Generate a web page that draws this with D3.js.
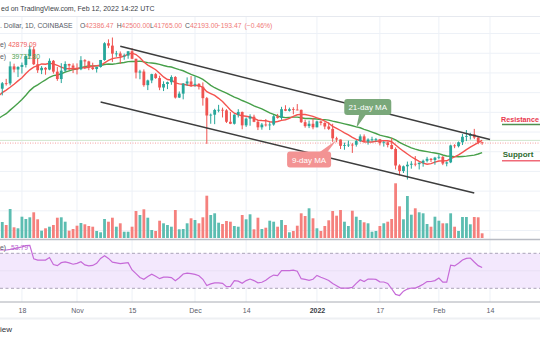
<!DOCTYPE html>
<html><head><meta charset="utf-8">
<script src="https://cdn.jsdelivr.net/npm/d3@7"></script>
<style>
html,body{margin:0;padding:0;background:#fff;overflow:hidden}
svg{display:block;font-family:"Liberation Sans",Arial,sans-serif}
</style></head><body>
<svg id="c" width="540" height="340"></svg>
<script>
// ---------- DATA ----------
const startDate = "2021-10-12";
// closes before the first visible day (Sep 22 - Oct 11), used only for the moving averages
const warmupCloses = [43570,44900,42840,42720,43210,42200,41030,41520,43820,48140,47660,48210,49240,51490,55340,53800,53930,54960,54700,57480];
const opens = [
57480,56000,57380,57350,61670,60880,61530,62030,64300,66000,62210,60690,61300,60860,63080,60330,58450,60590,62270,61880,
61320,60930,63230,62930,61430,60990,61520,63290,67540,66940,64900,64950,64150,64400,65500,63600,60100,60360,56900,58100,59700,58700,56300,57200,57650,58960,53750,54750,57300,57840,
57000,57230,56500,53600,49200,49400,50600,50650,50500,47600,47100,49400,50100,46700,48400,48900,47600,46200,46900,46700,46900,49000,48600,50800,50400,50800,50700,50640,47500,46500,47100,
46200,47700,47300,46400,45800,43400,43100,41500,41700,41800,41780,42700,43900,42600,43100,43150,43180,42200,42400,41700,40700,36500,35100,36300,36700,36950,36850,37200,37700,38200,37900,
38500,38700,37000,37300,41600,41400,42400,43800,44000,44400,43600,42386.47];
const highs = [
57680,57700,58500,62900,62350,61700,62650,64480,67000,66650,63700,61740,61490,63700,63290,61500,62480,62950,62360,62430,
62430,64260,63500,63100,62600,61550,63300,67800,68530,69000,65600,65450,64900,65500,66300,63600,60800,60900,58300,59800,60000,59300,57870,57800,59400,59200,55300,57400,58870,59200,
59100,57400,57600,53900,49700,50900,51900,51200,50800,50100,49500,50800,50200,48700,49500,49400,47900,47300,48300,47500,49300,49600,51400,51800,51200,51300,52100,50700,48100,47900,48600,
47900,47900,47500,47500,47100,43800,43100,42300,42800,42200,43000,44400,44400,43400,43800,43500,43200,42700,42600,43500,41100,36800,36500,37500,37600,38900,37300,38000,38700,38400,38700,
39300,38900,37500,41800,41900,42600,44500,45500,44800,45800,43900,42500];
const lows = [
53880,54300,56800,56850,60150,58950,59850,61380,63500,62000,60000,59700,59550,60680,59840,58000,57430,60200,60730,59970,
59640,60700,60980,60700,60730,60100,61350,63100,66300,62800,64100,62330,63350,63600,63500,58600,58400,56500,55650,57400,58500,55630,55400,55900,57000,53500,53630,53300,56700,56450,
56500,55800,51700,42000,47100,47000,50000,48700,47300,47000,46900,48700,45700,46300,46600,47500,45500,45600,46400,45500,46600,48400,48100,50300,50200,49500,50500,47300,46100,46000,45700,
46200,46700,45700,45500,42500,42400,40700,40500,41200,39700,41300,42500,42300,41800,42600,42600,41600,41300,41100,40600,35500,34000,34600,32950,35700,36300,35500,36200,37300,37400,36700,
38100,36600,36300,37100,40900,41100,41700,42700,43100,43200,41900,41765];
const closes = [
56000,57380,57350,61670,60880,61530,62030,64300,66000,62210,60690,61300,60860,63080,60330,58450,60590,62270,61880,61320,
60930,63230,62930,61430,60990,61520,63290,67540,66940,64900,64950,64150,64400,65500,63600,60100,60360,56900,58100,59700,58700,56300,57200,57650,58960,53750,54750,57300,57840,57000,
57230,56500,53600,49200,49400,50600,50650,50500,47600,47100,49400,50100,46700,48400,48900,47600,46200,46900,46700,46900,49000,48600,50800,50400,50800,50700,50640,47500,46500,47100,46200,
47700,47300,46400,45800,43400,43100,41500,41700,41800,41780,42700,43900,42600,43100,43150,43180,42200,42400,41700,40700,36500,35100,36300,36700,36950,36850,37200,37700,38200,37900,38500,
38700,37000,37300,41600,41400,42400,43800,44000,44400,43600,42386.47,42193];
// volume, thousand BTC
const volumes = [
15,17,14,30,11.7,10.7,22.3,20,21.7,26.7,19.7,8.3,10.7,12.3,14,21.3,21.7,17.3,8.3,10,
13.3,16,14.7,13,12.3,8,6.7,20,17.3,21.3,12.3,15.7,7.3,7.3,12.3,28,24,29.7,21.3,9,8,18.3,15.7,14,12.3,29,9.7,10,15.7,20.7,
19,15.7,21.7,43.3,24,25.7,16.3,15,18,17.3,13,12.3,24,19.7,24.7,9.7,21.3,10,11.3,18.3,17.3,12.3,19,14,6.7,8,13.3,25.7,23,30.7,20.7,
10.7,8,13,18.7,28,23.3,29,17.3,13,28.3,22.3,19,16.7,15.7,7.3,8,13,15.7,17.3,20,55.7,32.7,19.7,43,24.3,30.7,26.7,25.7,15,12.3,22.3,
18.3,15.7,15.7,25.7,12.3,8,22,22,14.7,22,21.7,5.7];
// RSI (14)
const rsiValues = [
73.8,73.8,73.8,74.5,75.4,76.3,77.3,78.8,79.0,63.7,62.3,62.3,62.3,65.2,57.2,55.9,59.3,60.1,59.1,57.5,
58.5,60.4,56.7,55.7,56.1,58.6,64.2,67.1,64.2,59.9,59.0,58.2,58.8,59.3,51.0,46.7,42.3,40.3,43.4,46.1,43.8,41.0,42.8,42.8,42.3,38.6,42.0,46.3,47.3,46.8,
45.9,44.4,40.3,33.2,35.1,36.1,36.1,35.7,31.8,32.2,38.7,38.2,35.8,38.8,40.6,38.8,36.2,36.9,39.1,42.6,45.1,44.6,50.1,50.1,50.3,50.7,49.5,41.0,40.1,39.1,40.3,
44.7,42.6,40.9,39.0,35.5,33.0,30.3,30.3,30.3,31.1,35.7,39.8,37.7,40.5,40.6,40.2,37.4,37.2,35.5,29.5,23.0,21.8,26.7,29.1,30.3,30.3,32.2,34.6,37.7,37.8,38.8,
41.8,37.0,37.1,56.5,55.6,58.7,62.3,64.2,64.6,60.1,55.9,53.79];
const tickDates = ["2021-10-18","2021-11-01","2021-11-15","2021-12-01","2021-12-14","2022-01-01","2022-01-17","2022-02-01","2022-02-14"];
const tickLabels = ["18","Nov","15","Dec","14","2022","17","Feb","14"];
const priceGrid = [20000,25000,30000,35000,40000,45000,50000,55000,60000,65000,70000];
const upperTrend = [{date:"2021-11-12", price:66800},{date:"2022-02-14", price:43100}];
const lowerTrend = [{date:"2021-11-07", price:52600},{date:"2022-02-10", price:29500}];
const levelPrice = 42879.09;
const lastPrice = 42193;
const ma21Note = {text:"21-day MA", date:"2022-01-11", price:46000};
const ma9Note  = {text:"9-day MA",  date:"2022-01-06", price:42950};
const headerLine = "ed on TradingView.com, Feb 12, 2022 14:22 UTC";
const symbolText = ". Dollar, 1D, COINBASE";
const ohlcLabels = ["O","H","L","C"];
const ohlcValues = ["42386.47","42500.00","41765.00","42193.00"];
const changeText = ["\u2212193.47","(\u22120.46%)"];
const ma9Legend = "42879.09", ma21Legend = "39771.80", rsiLegend = "53.79";

// ---------- SCALES ----------
const svg = d3.select("#c");
const W = 540;
const parse = s => new Date(s + "T00:00:00Z");
const t0 = parse(startDate);
const dates = closes.map((c,i) => d3.utcDay.offset(t0, i));
const bars = dates.map((d,i) => ({date:d, o:opens[i], h:highs[i], l:lows[i], c:closes[i], v:volumes[i], rsi:rsiValues[i]}));

const x = d3.scaleUtc().domain([parse("2021-11-01"), parse("2022-02-14")]).range([77, 490]);
const y = d3.scaleLinear().domain([32950, 69000]).range([179.5, 37.5]);
const vy = d3.scaleLinear().domain([0, 55.7]).range([239, 183.3]);
const ry = d3.scaleLinear().domain([30, 70]).range([288.3, 253.3]);

const allCloses = warmupCloses.concat(closes);
const off = warmupCloses.length;
const sma = n => closes.map((c,i) => d3.mean(allCloses.slice(i+off-n+1, i+off+1)));
const ma9 = sma(9), ma21 = sma(21);

const UP = "#26a69a", DN = "#ef5350";

// clips
const defs = svg.append("defs");
defs.append("clipPath").attr("id","mainClip").append("rect").attr("x",0).attr("y",17).attr("width",W).attr("height",221);
defs.append("clipPath").attr("id","rsiClip").append("rect").attr("x",0).attr("y",240).attr("width",W).attr("height",61);

// ---------- GRID ----------
const grid = svg.append("g");
grid.selectAll(".vg").data(tickDates).join("line")
  .attr("x1", d => x(parse(d))).attr("x2", d => x(parse(d)))
  .attr("y1", 17).attr("y2", 302).attr("stroke", "#edf1f7").attr("stroke-width", 1);
const main = svg.append("g").attr("clip-path","url(#mainClip)");
main.selectAll(".hg").data(priceGrid).join("line")
  .attr("x1", 0).attr("x2", W).attr("y1", d => y(d)).attr("y2", d => y(d))
  .attr("stroke", "#edf1f7").attr("stroke-width", 1);
svg.append("line").attr("x1",0).attr("x2",W).attr("y1",16.5).attr("y2",16.5).attr("stroke","#e6e9ef");

// level & price lines
main.append("line").attr("x1",0).attr("x2",W).attr("y1",y(levelPrice)).attr("y2",y(levelPrice))
  .attr("stroke","#cfe6cf").attr("stroke-width",1);
main.append("line").attr("x1",0).attr("x2",W).attr("y1",y(lastPrice)).attr("y2",y(lastPrice))
  .attr("stroke","#f4a0a0").attr("stroke-width",1).attr("stroke-dasharray","1,1.5");

// ---------- VOLUME ----------
main.append("g").selectAll("rect").data(bars).join("rect")
  .attr("x", d => x(d.date) - 1.4).attr("width", 2.8)
  .attr("y", d => vy(d.v)).attr("height", d => 239 - vy(d.v))
  .attr("fill", d => d.c >= d.o ? "#5cbdb1" : "#f5807d");

// pane separator
svg.append("line").attr("x1",0).attr("x2",W).attr("y1",239.5).attr("y2",239.5).attr("stroke","#b9bcc4").attr("stroke-width",1.5);

// ---------- MOVING AVERAGES ----------
const lineGen = vals => d3.line().x((d,i) => x(dates[i])).y(d => y(d))(vals);
main.append("path").attr("d", lineGen(ma21)).attr("fill","none").attr("stroke","#47a04a").attr("stroke-width",1.4);
main.append("path").attr("d", lineGen(ma9)).attr("fill","none").attr("stroke","#f4534f").attr("stroke-width",1.4);

// ---------- CANDLES ----------
const cg = main.append("g").selectAll("g").data(bars).join("g");
cg.append("line").attr("x1", d => x(d.date)).attr("x2", d => x(d.date))
  .attr("y1", d => y(d.h)).attr("y2", d => y(d.l))
  .attr("stroke", d => d.c >= d.o ? UP : DN).attr("stroke-width", 1);
cg.append("rect").attr("x", d => x(d.date) - 1.4).attr("width", 2.8)
  .attr("y", d => y(Math.max(d.o, d.c)))
  .attr("height", d => Math.max(0.8, Math.abs(y(d.o) - y(d.c))))
  .attr("fill", d => d.c >= d.o ? UP : DN);

// ---------- TRENDLINES ----------
[upperTrend, lowerTrend].forEach(t => {
  main.append("line")
    .attr("x1", x(parse(t[0].date))).attr("y1", y(t[0].price))
    .attr("x2", x(parse(t[1].date))).attr("y2", y(t[1].price))
    .attr("stroke", "#3d3d3d").attr("stroke-width", 1.5);
});

// ---------- CALLOUTS ----------
(function(){
  const tx = x(parse(ma21Note.date)), ty = y(ma21Note.price);
  const bx = tx - 12, by = ty - 29, bw = 47, bh = 16;
  svg.append("path").attr("d", `M${tx},${ty}L${tx+3},${by+bh-1}L${tx+10},${by+bh-1}Z`).attr("fill","#7aa87a");
  svg.append("rect").attr("x",bx).attr("y",by).attr("width",bw).attr("height",bh).attr("rx",3).attr("fill","#7aa87a");
  svg.append("text").attr("x",bx+bw/2).attr("y",by+bh/2+3).attr("text-anchor","middle")
    .attr("font-size",8).attr("fill","#fff").text(ma21Note.text);
})();
(function(){
  const tx = x(parse(ma9Note.date)), ty = y(ma9Note.price);
  const bw = 44, bh = 16, bx = tx - 49.5, by = ty + 11.5;
  svg.append("path").attr("d", `M${tx},${ty}L${bx+bw-12},${by+1}L${bx+bw-4},${by+1}Z`).attr("fill","#f39393");
  svg.append("rect").attr("x",bx).attr("y",by).attr("width",bw).attr("height",bh).attr("rx",3).attr("fill","#f39393");
  svg.append("text").attr("x",bx+bw/2).attr("y",by+bh/2+3).attr("text-anchor","middle")
    .attr("font-size",8).attr("fill","#fff").text(ma9Note.text);
})();

// ---------- RESISTANCE / SUPPORT ----------
svg.append("text").attr("x",501).attr("y",121.5).attr("font-size",7.6).attr("font-weight","bold").attr("fill","#e9384d")
  .attr("textLength",38).attr("lengthAdjust","spacingAndGlyphs").text("Resistance");
svg.append("line").attr("x1",502).attr("x2",W).attr("y1",124.5).attr("y2",124.5).attr("stroke","#4f8f4f").attr("stroke-width",1.5);
svg.append("text").attr("x",502.7).attr("y",157).attr("font-size",8).attr("font-weight","bold").attr("fill","#2f6b2f").text("Support");
svg.append("line").attr("x1",502).attr("x2",W).attr("y1",160.8).attr("y2",160.8).attr("stroke","#f06a78").attr("stroke-width",1.5);

// ---------- HEADER / LEGENDS ----------
svg.append("text").attr("x",1).attr("y",10.5).attr("font-size",7).attr("fill","#3c3f48").text(headerLine);
svg.append("text").attr("x",0).attr("y",27.5).attr("font-size",6.8).attr("fill","#555a66").text(symbolText);
const ohlcX = [80,116.7,150,185];
ohlcLabels.forEach((l,i) => {
  const t = svg.append("text").attr("x",ohlcX[i]).attr("y",27.5).attr("font-size",6.8);
  t.append("tspan").attr("fill","#555a66").text(l);
  t.append("tspan").attr("fill","#f07a78").text(ohlcValues[i]);
});
svg.append("text").attr("x",216.7).attr("y",27.5).attr("font-size",6.8).attr("fill","#f07a78").text(changeText[0]);
svg.append("text").attr("x",244.5).attr("y",27.5).attr("font-size",6.8).attr("fill","#f07a78").text(changeText[1]);

svg.append("text").attr("x",0).attr("y",46.5).attr("font-size",6.8).attr("fill","#555a66").text("e)");
svg.append("text").attr("x",8.3).attr("y",46.5).attr("font-size",6.8).attr("fill","#f0605c").text(ma9Legend);
svg.append("text").attr("x",0).attr("y",58.5).attr("font-size",6.8).attr("fill","#555a66").text("e)");
svg.append("text").attr("x",11.7).attr("y",58.5).attr("font-size",6.8).attr("fill","#4f9f4f").text(ma21Legend);

// ---------- RSI PANE ----------
const rsiG = svg.append("g").attr("clip-path","url(#rsiClip)");
rsiG.append("rect").attr("x",0).attr("width",W).attr("y",ry(70)).attr("height",ry(30)-ry(70)).attr("fill","#f3e8fd");
rsiG.append("line").attr("x1",0).attr("x2",W).attr("y1",ry(50)).attr("y2",ry(50)).attr("stroke","#e9e0f4");
[70,30].forEach(v => rsiG.append("line").attr("x1",0).attr("x2",W).attr("y1",ry(v)).attr("y2",ry(v))
  .attr("stroke","#aaa3b8").attr("stroke-width",1).attr("stroke-dasharray","3,2.5"));
rsiG.append("path").attr("d", d3.line().x(d => x(d.date)).y(d => ry(d.rsi))(bars))
  .attr("fill","none").attr("stroke","#c66ad8").attr("stroke-width",1.2);
svg.append("text").attr("x",0).attr("y",249.5).attr("font-size",6.8).attr("fill","#555a66").text("e)");
svg.append("text").attr("x",11).attr("y",249.5).attr("font-size",6.8).attr("fill","#b968d0").text(rsiLegend);

// ---------- TIME AXIS ----------
svg.append("line").attr("x1",0).attr("x2",W).attr("y1",302).attr("y2",302).attr("stroke","#a9acb4").attr("stroke-width",1);
const axis = d3.axisBottom(x).tickValues(tickDates.map(parse)).tickFormat((d,i) => tickLabels[i]).tickSize(0).tickPadding(3);
const ag = svg.append("g").attr("transform","translate(0,305)").call(axis);
ag.select(".domain").remove();
ag.selectAll("text").attr("font-size",7).attr("font-family","Liberation Sans, Arial, sans-serif")
  .attr("font-weight",(d,i) => tickLabels[i] === "2022" ? "bold" : "normal")
  .attr("fill",(d,i) => tickLabels[i] === "2022" ? "#3a3d46" : "#5d606b");

// bottom strip
svg.append("rect").attr("x",0).attr("y",317.5).attr("width",W).attr("height",2).attr("fill","#eef0f3");
svg.append("text").attr("x",0).attr("y",331.5).attr("font-size",8).attr("fill","#2f3139").text("iew");
</script>
</body></html>
